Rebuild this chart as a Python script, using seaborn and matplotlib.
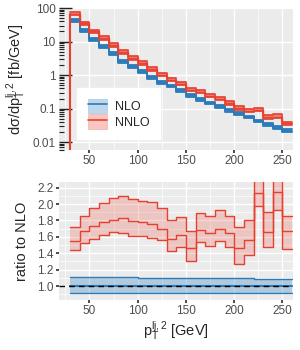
import numpy as np
import pandas as pd
import matplotlib
matplotlib.use("Agg")
import matplotlib.pyplot as plt
import seaborn as sns
from matplotlib.patches import Patch
from matplotlib.lines import Line2D
from matplotlib.ticker import LogLocator, MultipleLocator, FixedLocator, NullFormatter

# ---- data ----
bin_edges = [30, 40, 50, 60, 70, 80, 90, 100, 110, 120, 130, 140, 150, 160, 170,
             180, 190, 200, 210, 220, 230, 240, 250, 260]
nlo = [43, 21, 11.7, 7.1, 4.3, 2.6, 1.78, 1.26, 0.85, 0.59, 0.47, 0.34, 0.25,
       0.19, 0.148, 0.117, 0.089, 0.071, 0.056, 0.043, 0.034, 0.027, 0.022]
nlo_ratio_hi = [1.11, 1.11, 1.11, 1.105, 1.105, 1.105, 1.105, 1.10, 1.10, 1.10, 1.10, 1.10,
                1.10, 1.10, 1.10, 1.095, 1.095, 1.095, 1.095, 1.09, 1.09, 1.09, 1.09]
nlo_ratio_lo = [0.91, 0.91, 0.91, 0.912, 0.912, 0.912, 0.912, 0.913, 0.913, 0.913, 0.914, 0.914,
                0.914, 0.915, 0.915, 0.915, 0.916, 0.916, 0.916, 0.917, 0.917, 0.918, 0.918]
nnlo_ratio = [1.553, 1.667, 1.729, 1.778, 1.811, 1.827, 1.79, 1.778, 1.76, 1.696, 1.573, 1.627,
              1.463, 1.68, 1.647, 1.70, 1.647, 1.463, 1.565, 2.13, 1.66, 2.147, 1.676]
nnlo_ratio_hi = [1.717, 1.852, 1.954, 2.016, 2.077, 2.097, 2.057, 2.036, 2.024, 1.954, 1.803, 1.84,
                 1.667, 1.893, 1.86, 1.925, 1.852, 1.72, 1.803, 2.5, 1.905, 2.5, 1.852]
nnlo_ratio_lo = [1.442, 1.524, 1.577, 1.618, 1.655, 1.647, 1.614, 1.606, 1.586, 1.557, 1.43, 1.471,
                 1.311, 1.536, 1.491, 1.545, 1.471, 1.27, 1.381, 1.983, 1.471, 1.925, 1.45]
below_threshold = 1e-5  # value of the (empty) bin just below 30 GeV
x_ticks = [50, 100, 150, 200, 250]
y_ticks_top = [0.01, 0.1, 1, 10, 100]
y_tick_labels_top = ["0.01", "0.1", "1", "10", "100"]
y_ticks_ratio = [1.0, 1.2, 1.4, 1.6, 1.8, 2.0, 2.2]

BLUE = "#2b7bba"
RED = "#e8402f"

sns.set_theme(style="darkgrid", rc={
    "axes.facecolor": "#EBEBEB",
    "grid.color": "white",
    "axes.edgecolor": "none",
})
plt.rcParams["font.family"] = ["Liberation Sans", "DejaVu Sans"]
plt.rcParams["mathtext.fontset"] = "custom"
plt.rcParams["mathtext.rm"] = "Liberation Sans"
plt.rcParams["mathtext.it"] = "Liberation Sans:italic"

edges = np.array(bin_edges, dtype=float)
def stepify(vals):
    v = np.asarray(vals, dtype=float)
    return np.append(v, v[-1])

def step_line(ax, x, y, color, lw, alpha=1.0):
    sns.lineplot(x=x, y=y, drawstyle="steps-post", color=color, lw=lw, alpha=alpha,
                 estimator=None, sort=False, ax=ax)

nlo_a = np.array(nlo)
nnlo_c = nlo_a * np.array(nnlo_ratio)
nnlo_hi = nlo_a * np.array(nnlo_ratio_hi)
nnlo_lo = nlo_a * np.array(nnlo_ratio_lo)
nlo_hi = nlo_a * np.array(nlo_ratio_hi)
nlo_lo = nlo_a * np.array(nlo_ratio_lo)

fig = plt.figure(figsize=(3.0, 3.5), dpi=100)
ax1 = fig.add_axes([0.195, 0.571, 0.782, 0.406])
ax2 = fig.add_axes([0.195, 0.143, 0.782, 0.337])

# ---- top panel ----
ax1.set_yscale("log")
ax1.fill_between(edges, stepify(nlo_lo), stepify(nlo_hi), step="post", color=BLUE, alpha=0.8, lw=0)
for arr, lw in [(nlo_lo, 1.3), (nlo_hi, 1.3), (nlo_a, 1.3)]:
    step_line(ax1, edges, stepify(arr), BLUE, lw)
ax1.fill_between(edges, stepify(nnlo_lo), stepify(nnlo_hi), step="post", color=RED, alpha=0.6, lw=0)
for arr, lw in [(nnlo_lo, 1.3), (nnlo_hi, 1.3), (nnlo_c, 1.0)]:
    step_line(ax1, edges, stepify(arr), RED, lw, alpha=0.95)
# the empty bin below threshold
step_line(ax1, np.array([edges[0] - 10, edges[0]]), np.array([below_threshold, nnlo_c[0]]), RED, 1.5)

ax1.set_xlim(18, 261)
ax1.set_ylim(0.0058, 100)
ax1.set_yticks(y_ticks_top)
ax1.set_yticklabels(y_tick_labels_top)
ax1.yaxis.set_minor_locator(LogLocator(base=10, subs=np.arange(2, 10)))
ax1.yaxis.set_minor_formatter(NullFormatter())
ax1.set_xticks(x_ticks)
ax1.xaxis.set_minor_locator(FixedLocator([25, 75, 125, 175, 225]))
ax1.grid(which="major", lw=1.0)
ax1.grid(which="minor", axis="x", lw=0.5)
ax1.tick_params(axis="y", which="major", direction="in", length=9, width=1.0, color="#222222",
                left=True, labelsize=8.5, labelcolor="#4d4d4d", pad=2)
ax1.tick_params(axis="y", which="minor", direction="in", length=3.5, width=0.8, color="#222222", left=True)
ax1.tick_params(axis="x", which="major", direction="out", length=2.5, color="#333333", bottom=True,
                labelsize=8.5, labelcolor="#4d4d4d", pad=1)
ax1.tick_params(axis="x", which="minor", length=0)
ax1.set_xlabel("")
ax1.set_ylabel("dσ/dp$_\\mathrm{T}^{\\mathrm{lj},2}$ [fb/GeV]", fontsize=10.5, labelpad=3)

handles = [(Patch(facecolor=BLUE, alpha=0.3, edgecolor=BLUE, lw=0.5), Line2D([], [], color=BLUE, lw=1.2)),
           (Patch(facecolor=RED, alpha=0.3, edgecolor=RED, lw=0.5), Line2D([], [], color=RED, lw=1.2))]
leg = ax1.legend(handles, ["NLO", "NNLO"], loc="lower left", bbox_to_anchor=(0.08, 0.075),
                 fontsize=9, frameon=True, fancybox=False, handlelength=1.5, handleheight=1.4,
                 labelspacing=0.1, borderpad=0.85, handletextpad=0.65, borderaxespad=0)
leg.get_frame().set_facecolor("white")
leg.get_frame().set_edgecolor("white")
leg.get_frame().set_alpha(1)

# ---- ratio panel ----
ax2.fill_between(edges, stepify(nlo_ratio_lo), stepify(nlo_ratio_hi), step="post", color=BLUE, alpha=0.3, lw=0)
for arr in [nlo_ratio_lo, nlo_ratio_hi]:
    step_line(ax2, edges, stepify(arr), BLUE, 1.0)
step_line(ax2, edges, stepify(np.ones(len(nlo))), BLUE, 1.5)
ax2.axhline(1.0, color="black", lw=1.0, ls=(0, (4, 3)))
ax2.fill_between(edges, stepify(nnlo_ratio_lo), stepify(nnlo_ratio_hi), step="post", color=RED, alpha=0.22, lw=0)
for arr in [nnlo_ratio_lo, nnlo_ratio, nnlo_ratio_hi]:
    step_line(ax2, edges, stepify(arr), RED, 1.0)

ax2.set_xlim(18, 261)
ax2.set_ylim(0.83, 2.27)
ax2.set_yticks(y_ticks_ratio)
ax2.set_yticklabels([f"{v:.1f}" for v in y_ticks_ratio])
ax2.yaxis.set_minor_locator(MultipleLocator(0.1))
ax2.set_xticks(x_ticks)
ax2.xaxis.set_minor_locator(FixedLocator([25, 75, 125, 175, 225]))
ax2.grid(which="major", lw=1.0)
ax2.grid(which="minor", lw=0.5)
ax2.tick_params(axis="both", which="major", direction="out", length=2.5, color="#333333",
                left=True, bottom=True, labelsize=8.5, labelcolor="#4d4d4d", pad=1)
ax2.tick_params(axis="both", which="minor", length=0)
ax2.set_xlabel("p$_\\mathrm{T}^{\\mathrm{lj},2}$ [GeV]", fontsize=10.5, labelpad=2)
ax2.set_ylabel("ratio to NLO", fontsize=10.5, labelpad=6)

fig.savefig("out.png", dpi=100)
